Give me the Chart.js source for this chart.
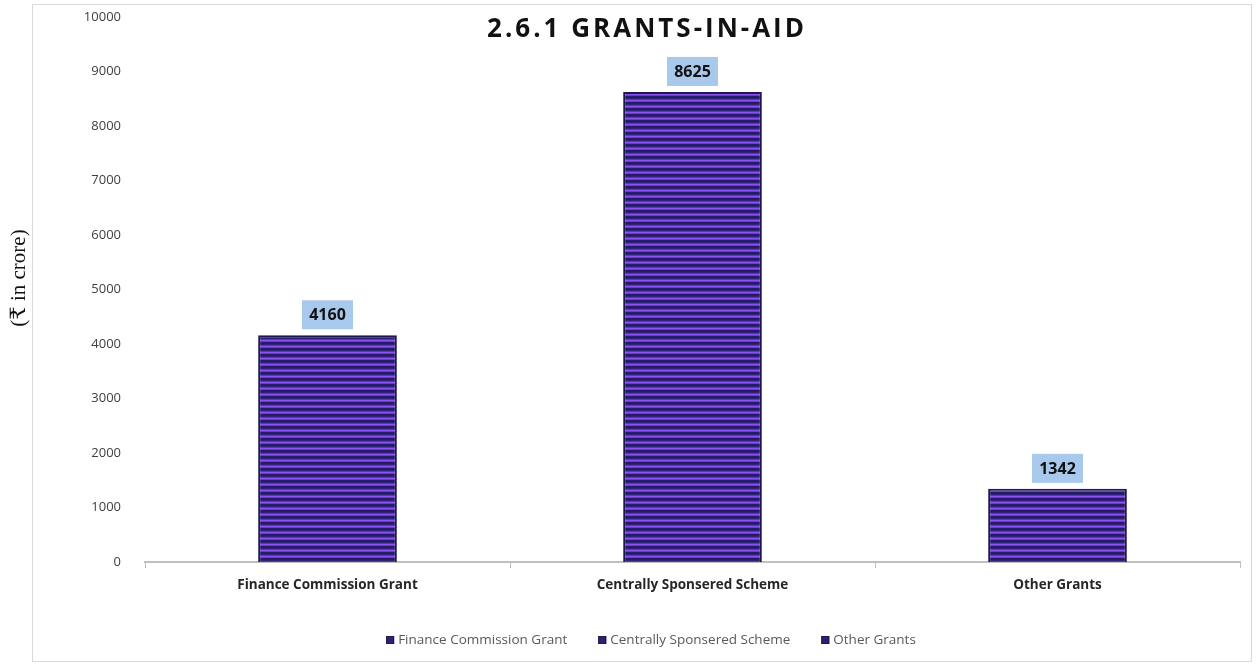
<!DOCTYPE html>
<html>
<head>
<meta charset="utf-8">
<script src="https://cdn.jsdelivr.net/npm/chart.js@4"></script>
<style>
  html, body { margin: 0; padding: 0; background: #fff; }
  #wrap { position: relative; width: 1258px; height: 666px; }
</style>
</head>
<body>
<div id="wrap"><canvas id="grantsChart" width="1258" height="666"></canvas></div>
<script>
const categories = ['Finance Commission Grant', 'Centrally Sponsered Scheme', 'Other Grants'];
const grantValues = [4160, 8625, 1342];
const yTicks = [0, 1000, 2000, 3000, 4000, 5000, 6000, 7000, 8000, 9000, 10000];
const chartTitle = '2.6.1 GRANTS-IN-AID';
const yLabel = '(\u20B9 in crore)';

const FONT = "'Open Sans', 'Noto Sans', sans-serif";

// striped fill like the scanned bars
function makeStripes(ctx) {
    const p = document.createElement('canvas');
    p.width = 4; p.height = 6;
    const pc = p.getContext('2d');
    const rows = ['#261c68', '#241a62', '#2e2378', '#5c34bc', '#8c4ff0', '#6a3ccc'];
    rows.forEach((c, i) => { pc.fillStyle = c; pc.fillRect(0, i, 4, 1); });
    return ctx.createPattern(p, 'repeat');
}

// frame, y label, title and legend row
const decorPlugin = {
    id: 'decor',
    beforeDraw(chart) {
        const ctx = chart.ctx;
        ctx.save();
        ctx.strokeStyle = '#d9d9d9';
        ctx.lineWidth = 1;
        ctx.strokeRect(32.5, 4.5, 1219, 657);
        ctx.restore();
    },
    afterDraw(chart) {
        const ctx = chart.ctx;
        ctx.save();
        ctx.fillStyle = '#111';
        ctx.font = "21px 'Liberation Serif', 'DejaVu Serif', serif";
        ctx.textAlign = 'center';
        ctx.textBaseline = 'middle';
        ctx.translate(19, 278);
        ctx.rotate(-Math.PI / 2);
        ctx.fillText(yLabel, 0, 0);
        ctx.restore();

        ctx.save();
        ctx.fillStyle = '#111';
        ctx.font = "bold 26px " + FONT;
        if ('letterSpacing' in ctx) ctx.letterSpacing = '3px';
        ctx.textAlign = 'center';
        ctx.textBaseline = 'middle';
        ctx.fillText(chartTitle, 647, 30);
        ctx.restore();

        // legend
        ctx.save();
        ctx.font = "13.5px " + FONT;
        ctx.textBaseline = 'middle';
        const box = 8, gapText = 4, gapItem = 31, cy = 640;
        const widths = categories.map(c => box + gapText + ctx.measureText(c).width);
        const total = widths.reduce((a, b) => a + b, 0) + gapItem * (categories.length - 1);
        let x = 651 - total / 2;
        categories.forEach((c, i) => {
            ctx.fillStyle = '#2c2270';
            ctx.fillRect(x, cy - box / 2, box, box);
            ctx.strokeStyle = '#1e1850';
            ctx.lineWidth = 1;
            ctx.strokeRect(x + 0.5, cy - box / 2 + 0.5, box - 1, box - 1);
            ctx.fillStyle = '#595959';
            ctx.fillText(c, x + box + gapText, cy);
            x += widths[i] + gapItem;
        });
        ctx.restore();
    }
};

// value boxes above bars
const valueBoxPlugin = {
    id: 'valueBox',
    afterDatasetsDraw(chart) {
        const ctx = chart.ctx;
        const meta = chart.getDatasetMeta(0);
        ctx.save();
        ctx.font = "bold 16px " + FONT;
        ctx.textAlign = 'center';
        ctx.textBaseline = 'middle';
        meta.data.forEach((bar, i) => {
            const txt = String(chart.data.datasets[0].data[i]);
            const w = 51, h = 29;
            const bx = bar.x - w / 2;
            const by = bar.y - 6 - h;
            ctx.fillStyle = '#a8c8ec';
            ctx.fillRect(bx, by, w, h);
            ctx.fillStyle = '#111';
            ctx.fillText(txt, bar.x, by + h / 2 + 1);
        });
        ctx.restore();
    }
};

const canvas = document.getElementById('grantsChart');
const ctx = canvas.getContext('2d');
const stripes = makeStripes(ctx);

new Chart(ctx, {
    type: 'bar',
    data: {
        labels: categories,
        datasets: [{
            label: 'Grants',
            data: grantValues,
            backgroundColor: stripes,
            borderColor: '#1e1850',
            borderWidth: 2,
            categoryPercentage: 1,
            barPercentage: 0.38
        }]
    },
    options: {
        responsive: false,
        animation: false,
        layout: { padding: { left: 32, right: 18, top: 17, bottom: 63 } },
        plugins: {
            title: { display: false },
            tooltip: { enabled: false },
            legend: { display: false }
        },
        scales: {
            x: {
                grid: {
                    offset: true,
                    drawOnChartArea: false,
                    drawTicks: true,
                    tickLength: 6,
                    color: '#bfbfbf'
                },
                border: { display: true, color: '#bfbfbf', width: 2 },
                ticks: {
                    color: '#262626',
                    padding: 9,
                    font: { family: FONT, size: 13.5, weight: 'bold' }
                },
                afterFit(scale) { scale.height = 41; }
            },
            y: {
                min: 0,
                max: 10000,
                afterBuildTicks(scale) { scale.ticks = yTicks.map(v => ({ value: v })); },
                grid: { display: false },
                border: { display: false },
                ticks: {
                    color: '#404040',
                    padding: 16,
                    font: { family: FONT, size: 13 },
                    callback: v => String(v)
                },
                afterFit(scale) {
                    scale.width = 113;
                    scale.paddingTop = 0;
                    scale.paddingBottom = 0;
                }
            }
        }
    },
    plugins: [decorPlugin, valueBoxPlugin]
});
</script>
</body>
</html>
